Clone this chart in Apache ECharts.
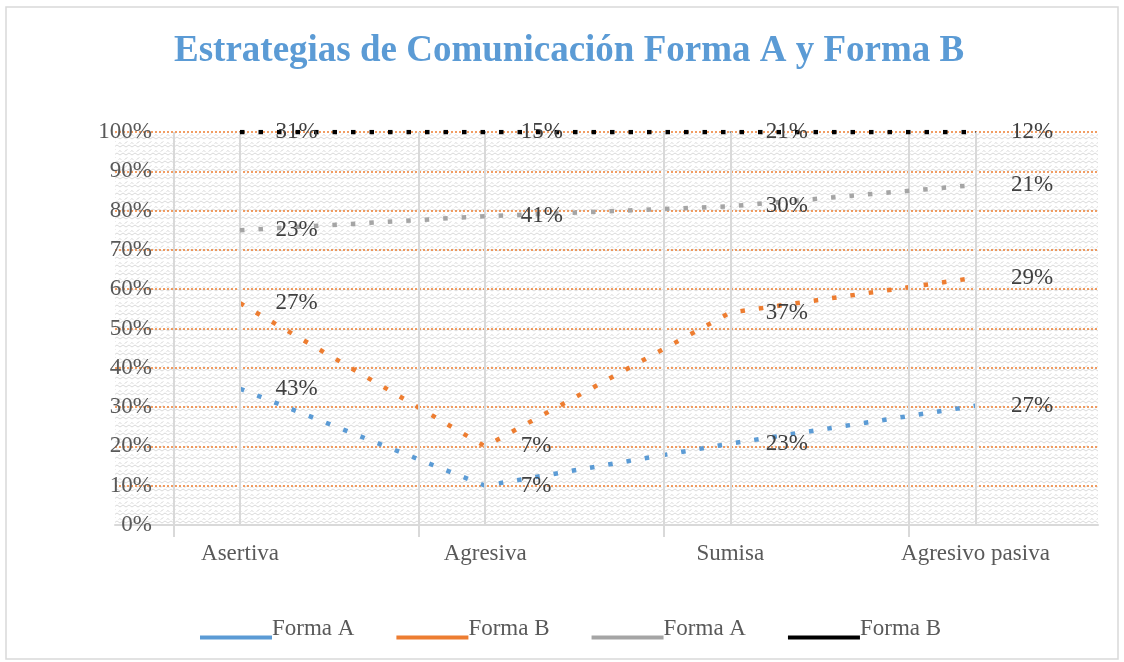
<!DOCTYPE html>
<html>
<head>
<meta charset="utf-8">
<script src="https://cdn.jsdelivr.net/npm/echarts@6/dist/echarts.min.js"></script>
<style>
html,body{margin:0;padding:0;background:#fff;}
#chart{width:1124px;height:662px;}
</style>
</head>
<body>
<div id="chart"></div>
<script>
// ---- Data ----
var categories = ['Asertiva', 'Agresiva', 'Sumisa', 'Agresivo pasiva'];
var formaA_1 = [43, 7, 23, 27];   // blue
var formaB_1 = [27, 7, 37, 29];   // orange
var formaA_2 = [23, 41, 30, 21];  // gray
var formaB_2 = [31, 15, 21, 12];  // black
var yTicks = [0, 10, 20, 30, 40, 50, 60, 70, 80, 90, 100];
var seriesNames = ['Forma A', 'Forma B', 'Forma A#2', 'Forma B#2'];
var seriesColors = ['#5B9BD5', '#ED7D31', '#A5A5A5', '#000000'];

// 100% stacked: cumulative share per category (Excel "100% stacked line")
var raw = [formaA_1, formaB_1, formaA_2, formaB_2];
var totals = categories.map(function (c, i) {
  return raw.reduce(function (s, arr) { return s + arr[i]; }, 0);
});
var cumulative = [];
raw.forEach(function (arr, k) {
  cumulative.push(arr.map(function (v, i) {
    var s = 0;
    for (var j = 0; j <= k; j++) s += raw[j][i];
    return s / totals[i] * 100;
  }));
});

// pattern for plot area (light zigzag weave)
var tile = document.createElement('canvas');
tile.width = 12; tile.height = 8;
var tctx = tile.getContext('2d');
tctx.fillStyle = '#ffffff';
tctx.fillRect(0, 0, 12, 8);
tctx.strokeStyle = '#dadada';
tctx.lineWidth = 1;
tctx.beginPath();
tctx.moveTo(0, 3); tctx.lineTo(3, 1); tctx.lineTo(6, 3); tctx.lineTo(9, 1); tctx.lineTo(12, 3);
tctx.stroke();
tctx.beginPath();
tctx.moveTo(-1.5, 6); tctx.lineTo(1.5, 7.5);
tctx.moveTo(4.5, 7.5); tctx.lineTo(7.5, 5.5);
tctx.moveTo(10.5, 7.5); tctx.lineTo(13.5, 5.5);
tctx.stroke();

var font = 'Liberation Serif';
var catOffset = -0.27; // category boundary ticks relative to points

var series = raw.map(function (arr, k) {
  return {
    name: seriesNames[k],
    type: 'line',
    data: cumulative[k].map(function (v, i) { return [i, v]; }),
    symbol: 'rect',
    symbolSize: 1,
    itemStyle: { color: seriesColors[k] },
    lineStyle: { color: seriesColors[k], width: 4.5, type: [4.5, 14], cap: 'butt' },
    label: {
      show: true,
      position: 'right',
      distance: 35,
      fontFamily: font,
      fontSize: 23,
      color: '#404040',
      formatter: function (p) { return arr[p.dataIndex] + '%'; }
    },
    z: 3 + k,
    animation: false
  };
});

// vertical gridlines (at category points and at category boundaries)
var vLines = [];
categories.forEach(function (c, i) {
  vLines.push({ xAxis: i });
  vLines.push({ xAxis: i + catOffset });
});
series.push({
  name: 'grid-v',
  type: 'line',
  data: [],
  silent: true,
  z: 1,
  markLine: {
    silent: true,
    symbol: 'none',
    label: { show: false },
    lineStyle: { color: '#d9d9d9', width: 2, type: 'solid' },
    data: vLines,
    animation: false
  }
});

var chart = echarts.init(document.getElementById('chart'), null, { renderer: 'canvas' });
chart.setOption({
  backgroundColor: '#ffffff',
  animation: false,
  title: {
    text: 'Estrategias de Comunicación Forma A y Forma B',
    left: 174,
    top: 33,
    padding: 0,
    textStyle: { fontFamily: font, fontSize: 37, fontWeight: 'bold', color: '#5B9BD5' }
  },
  graphic: [{
    type: 'rect',
    shape: { x: 6, y: 7, width: 1112, height: 652 },
    style: { fill: 'none', stroke: '#d9d9d9', lineWidth: 1.5 },
    silent: true,
    z: -10
  }],
  legend: {
    data: seriesNames,
    left: 200,
    top: 617,
    padding: 0,
    itemWidth: 72,
    itemHeight: 22,
    itemGap: 42,
    icon: 'path://M0,0 M0,18 L72,18 L72,22 L0,22 Z',
    itemStyle: { borderWidth: 0 },
    formatter: function (n) { return n.replace('#2', ''); },
    textStyle: { fontFamily: font, fontSize: 23, color: '#595959', padding: [0, 0, 0, -5] },
    selectedMode: false
  },
  grid: {
    left: 115, right: 26, top: 132, bottom: 137,
    show: true,
    borderWidth: 0,
    backgroundColor: { image: tile, repeat: 'repeat' },
    containLabel: false
  },
  xAxis: {
    type: 'value',
    min: -0.51,
    max: 3.5,
    splitLine: { show: false },
    axisLine: { show: true, lineStyle: { color: '#d9d9d9', width: 2 } },
    axisTick: {
      show: true,
      length: 12,
      lineStyle: { color: '#d9d9d9', width: 2 },
      customValues: categories.map(function (c, i) { return i + catOffset; })
    },
    axisLabel: {
      show: true,
      customValues: categories.map(function (c, i) { return i; }),
      margin: 17,
      fontFamily: font,
      fontSize: 23,
      color: '#595959',
      formatter: function (v) {
        var i = Math.round(v);
        return (Math.abs(v - i) < 1e-6 && categories[i]) ? categories[i] : '';
      }
    }
  },
  yAxis: {
    type: 'value',
    min: yTicks[0],
    max: yTicks[yTicks.length - 1],
    interval: 10,
    axisLine: { show: false },
    axisTick: { show: false },
    axisLabel: {
      margin: -37,
      fontFamily: font,
      fontSize: 23,
      color: '#595959',
      formatter: '{value}%'
    },
    splitLine: {
      show: true,
      showMinLine: false,
      lineStyle: { color: '#ED7D31', width: 1.5, type: [2, 2] }
    }
  },
  series: series
});
</script>
</body>
</html>
